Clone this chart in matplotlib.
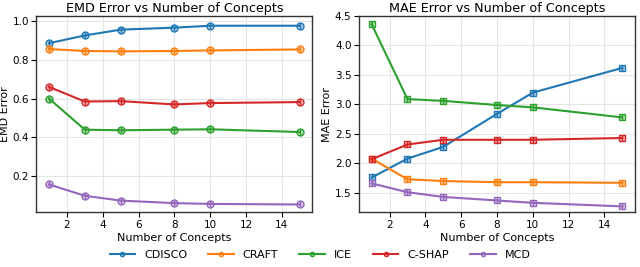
import matplotlib
matplotlib.use("Agg")
import matplotlib.pyplot as plt

concepts = [1, 3, 5, 8, 10, 15]
methods = ["CDISCO", "CRAFT", "ICE", "C-SHAP", "MCD"]
colors = ["#1f77b4", "#ff7f0e", "#2ca02c", "#d62728", "#9467bd"]

emd = {
    "CDISCO": [0.885, 0.925, 0.955, 0.965, 0.975, 0.975],
    "CRAFT": [0.855, 0.845, 0.843, 0.845, 0.848, 0.853],
    "ICE": [0.600, 0.440, 0.437, 0.440, 0.442, 0.428],
    "C-SHAP": [0.660, 0.585, 0.587, 0.570, 0.577, 0.582],
    "MCD": [0.158, 0.100, 0.075, 0.062, 0.058, 0.055],
}
mae = {
    "CDISCO": [1.76, 2.08, 2.28, 2.84, 3.20, 3.62],
    "CRAFT": [2.08, 1.73, 1.70, 1.68, 1.68, 1.67],
    "ICE": [4.36, 3.09, 3.06, 2.99, 2.95, 2.78],
    "C-SHAP": [2.07, 2.32, 2.40, 2.40, 2.40, 2.43],
    "MCD": [1.66, 1.51, 1.43, 1.37, 1.33, 1.27],
}

plt.rcParams['font.size'] = 8

fig, axes = plt.subplots(1, 2, figsize=(6.4, 2.67), dpi=100)

panels = [
    (axes[0], emd, "o", "EMD Error", "EMD Error vs Number of Concepts"),
    (axes[1], mae, "s", "MAE Error", "MAE Error vs Number of Concepts"),
]

for ax, data, mk, ylab, title in panels:
    for m, c in zip(methods, colors):
        ax.plot(concepts, data[m], color=c, linewidth=1.5, marker=mk,
                markersize=5, markerfacecolor=c + "55", markeredgecolor=c,
                markeredgewidth=1.0, label=m)
        # small vertical tick through each marker
        ax.plot(concepts, data[m], linestyle="none", marker="|", markersize=5,
                color=c, markeredgewidth=1.0)
    ax.set_xlabel("Number of Concepts", fontsize=8, labelpad=2)
    ax.set_ylabel(ylab, fontsize=8, labelpad=2)
    ax.set_title(title, fontsize=9.2, pad=3)
    ax.grid(True, color="#e5e5e5", linewidth=0.8)
    ax.set_axisbelow(True)
    ax.tick_params(labelsize=7.5, pad=2)
    for s in ax.spines.values():
        s.set_color("#333333")
        s.set_linewidth(1.0)

axes[0].set_xticks([2, 4, 6, 8, 10, 12, 14])
axes[1].set_xticks([2, 4, 6, 8, 10, 12, 14])
axes[0].set_yticks([0.2, 0.4, 0.6, 0.8, 1.0])
axes[0].set_ylim(0.015, 1.025)
axes[1].set_ylim(1.17, 4.5)

leg_handles = []
for m, c in zip(methods, colors):
    h, = axes[0].plot([], [], color=c, linewidth=1.5, marker="o", markersize=3,
                      markerfacecolor=c + "55", markeredgecolor=c)
    leg_handles.append(h)
fig.legend(leg_handles, methods, loc="lower center", ncol=5, frameon=False,
           fontsize=8, bbox_to_anchor=(0.5, -0.01), columnspacing=1.9,
           handlelength=2.3)

fig.subplots_adjust(left=0.057, right=0.992, top=0.94, bottom=0.205, wspace=0.17)
fig.savefig("out.png", dpi=100)
